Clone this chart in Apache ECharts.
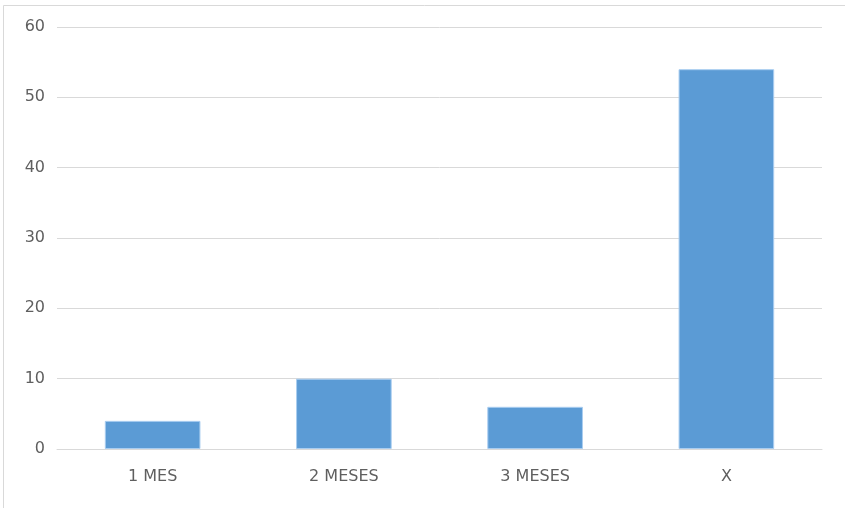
<!DOCTYPE html>
<html><head><meta charset="utf-8">
<script src="https://cdn.jsdelivr.net/npm/echarts@6/dist/echarts.min.js"></script>
<style>html,body{margin:0;padding:0;background:#fff}#c{width:845px;height:508px}</style>
</head><body><div id="c"></div>
<script>
const categories = ['1 MES', '2 MESES', '3 MESES', 'X'];
const values = [4, 10, 6, 54];
const yTicks = [0, 10, 20, 30, 40, 50, 60];

const chart = echarts.init(document.getElementById('c'));
chart.setOption({
  animation: false,
  backgroundColor: '#fff',
  graphic: [{
    type: 'rect', left: 1, top: 3, silent: true,
    shape: { width: 842, height: 503 },
    style: { fill: 'none', stroke: '#d9d9d9', lineWidth: 1 }
  }],
  grid: { left: 57, right: 23, top: 27, bottom: 59, containLabel: false },
  xAxis: {
    type: 'category', data: categories,
    axisTick: { show: false },
    axisLine: { show: true, lineStyle: { color: '#d9d9d9' } },
    axisLabel: { color: '#5f5f5f', fontSize: 16, margin: 20, fontFamily: 'DejaVu Sans' }
  },
  yAxis: {
    type: 'value', min: yTicks[0], max: yTicks[yTicks.length - 1], interval: 10,
    axisLine: { show: false }, axisTick: { show: false },
    axisLabel: { color: '#5f5f5f', fontSize: 16, margin: 12, fontFamily: 'DejaVu Sans' },
    splitLine: { lineStyle: { color: '#d9d9d9' } }
  },
  series: [{
    type: 'bar', data: values, barWidth: '50%',
    itemStyle: { color: '#5b9bd5', borderColor: '#a9cdf0', borderWidth: 1 }
  }]
});
</script></body></html>
